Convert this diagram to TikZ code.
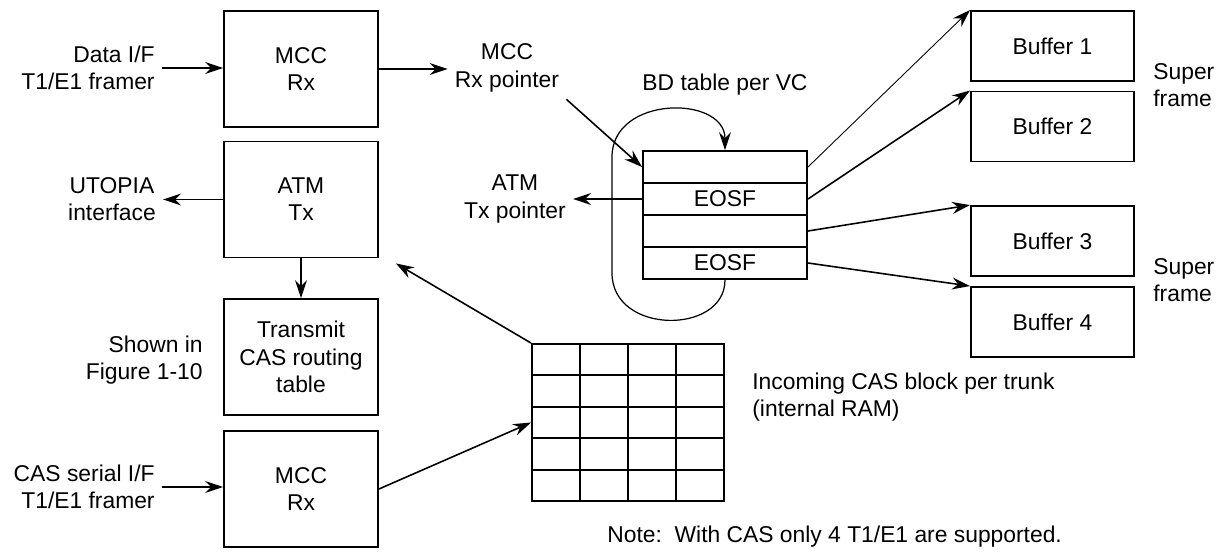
\documentclass[tikz,border=0pt]{standalone}
\usepackage{fontspec}
\setmainfont{Liberation Sans}
\usetikzlibrary{arrows.meta,positioning}

\tikzset{
  block/.style={draw, line width=1.1pt, minimum width=3.08cm, minimum height=2.32cm, align=center, inner sep=0pt},
  buffer/.style={draw, line width=1.1pt, minimum width=3.26cm, minimum height=1.4cm},
  bdrow/.style={draw, line width=1.1pt, minimum width=3.28cm, minimum height=0.64cm, inner sep=0pt},
  txt/.style={inner sep=4pt},
  link/.style={line width=0.9pt, -{Stealth[length=3.6mm,width=2.4mm,inset=1.2mm]}}
}

\begin{document}
\begin{tikzpicture}[x=0.02cm,y=-0.02cm,font=\fontsize{13}{15.5}\selectfont]
\useasboundingbox (0,0) rectangle (1225,552);

% left column
\node [block] (mccrx) at (301,69) {MCC\\Rx};
\node [block] (atmtx) at (301,199.5) {ATM\\Tx};
\node [block] (cast) at (301,357) {Transmit\\CAS routing\\table};
\node [block] (mcccas) at (301,489) {MCC\\Rx};

\node [txt, align=right, anchor=east] (datain) at (162,68) {Data I/F\\T1/E1 framer};
\node [txt, align=center] (utopia) at (112,199) {UTOPIA\\interface};
\node [txt, align=right, anchor=east] (shown) at (210,360) {Shown in\\Figure 1-10};
\node [txt, align=right, anchor=east] (casin) at (162,487) {CAS serial I/F\\T1/E1 framer};
\node [txt, align=center] (rxptr) at (507,68) {MCC\\Rx pointer};
\node [txt, align=center] (txptr) at (515,199) {ATM\\Tx pointer};

% BD table
\node [txt] (bdtitle) at (725,85) {BD table per VC};
\node [bdrow] (bd1) at (725,167) {};
\node [bdrow] (bd2) at (725,199) {EOSF};
\node [bdrow] (bd3) at (725,231) {};
\node [bdrow] (bd4) at (725,263) {EOSF};

% buffers
\node [buffer] (buf1) at (1052.5,46) {Buffer 1};
\node [buffer] (buf2) at (1052.5,126.5) {Buffer 2};
\node [buffer] (buf3) at (1052.5,241) {Buffer 3};
\node [buffer] (buf4) at (1052.5,322) {Buffer 4};
\node [txt, align=left, anchor=west] (sf1) at (1146,85) {Super\\frame};
\node [txt, align=left, anchor=west] (sf2) at (1146,280) {Super\\frame};

% CAS block
\node [draw, line width=1.1pt, minimum width=3.84cm, minimum height=3.14cm, inner sep=0pt] (casblk) at (628,422.5) {};
\foreach \x in {580,628,676}
  \draw [line width=1.1pt] (\x,344) -- (\x,501);
\foreach \y in {375.4,406.8,438.2,469.6}
  \draw [line width=1.1pt] (532,\y) -- (724,\y);
\node [txt, align=left, anchor=west] (casnote) at (745,397) {Incoming CAS block per trunk\\(internal RAM)};
\node [txt, anchor=west] (note) at (600,537) {Note:\ \ With CAS only 4 T1/E1 are supported.};

% connectors
\draw [link] (datain.east) -- (datain.east -| mccrx.west);
\draw [link] (mccrx.east) -- (mccrx.east -| rxptr.west);
\draw [link] (atmtx.west) -- (atmtx.west -| utopia.east);
\draw [link] (bd2.west) -- (bd2.west -| txptr.east);
\draw [link] (atmtx.south) -- (cast.north);
\draw [link] (casin.east) -- (casin.east -| mcccas.west);
\draw [link] (mcccas.east) -- (casblk.west);
\draw [link] (casblk.north west) -- ([shift={(17,5)}]atmtx.south east);
\draw [link] (rxptr.south east) -- (bd1.west);
\draw [link, line width=0.7pt] (bd4.south) .. controls (725,335) and (612,335) .. (612,273)
  -- (612,157) .. controls (612,95) and (725,95) .. (bd1.north);
\draw [link, line width=0.5pt] (bd1.east) -- (buf1.north west);
\draw [link] (bd2.east) -- (buf2.north west);
\draw [link] (bd3.east) -- (buf3.north west);
\draw [link] (bd4.east) -- (buf4.north west);
\end{tikzpicture}
\end{document}
